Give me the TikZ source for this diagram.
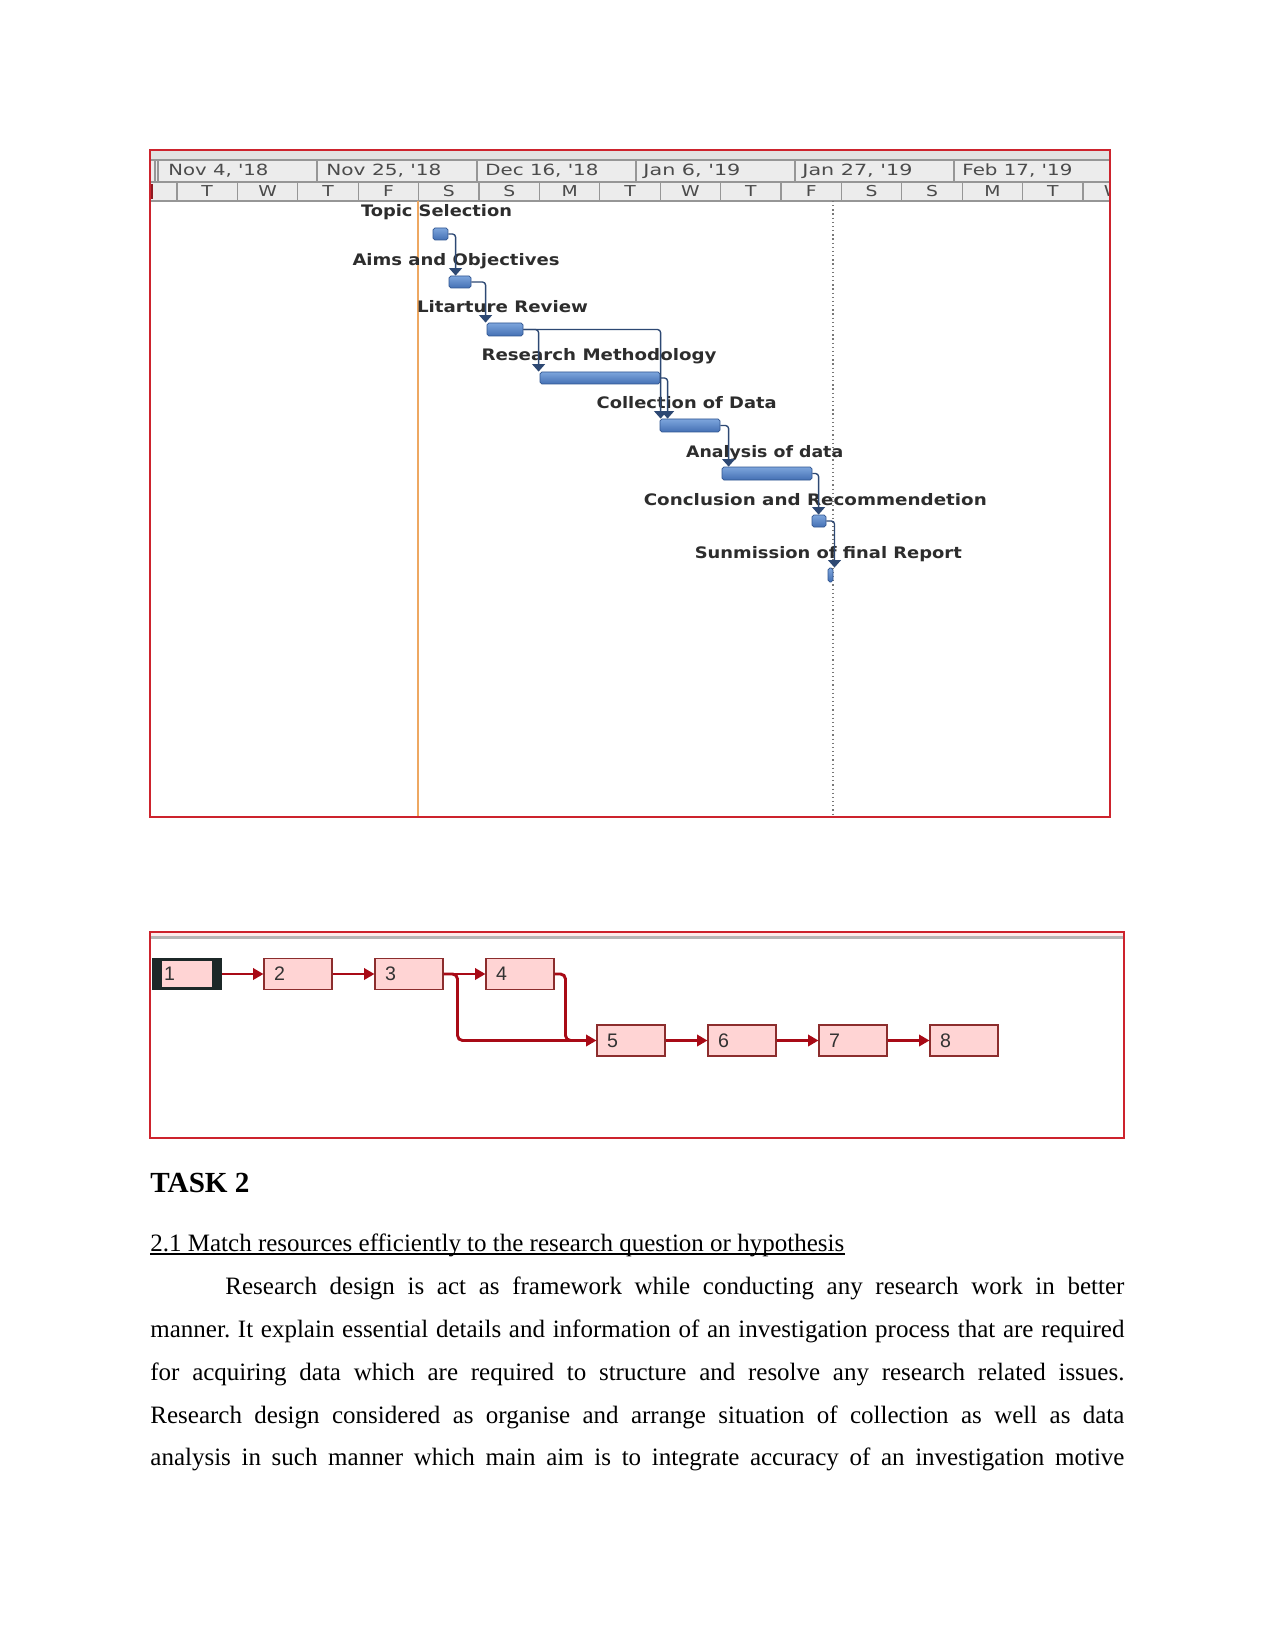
\documentclass[tikz,border=0pt]{standalone}
\usepackage{fontspec}
\setmainfont{Liberation Serif}
\newfontfamily\gsans{DejaVu Sans}
\newfontfamily\nsans{Liberation Sans}
\usetikzlibrary{arrows.meta,calc}
\newdimen\pxu \pxu=0.48pt
\newcommand\gw[2]{\resizebox{#1\pxu}{\height}{#2}}
\definecolor{framered}{RGB}{205,35,45}
\definecolor{hdrbg}{RGB}{236,236,236}
\definecolor{hdrtop}{RGB}{226,226,226}
\definecolor{hdrline}{RGB}{150,150,150}
\definecolor{hdrtxt}{RGB}{75,75,75}
\definecolor{gtxt}{RGB}{45,45,45}
\definecolor{bartop}{RGB}{125,165,220}
\definecolor{barbot}{RGB}{68,112,180}
\definecolor{barline}{RGB}{48,85,145}
\definecolor{gconn}{RGB}{45,72,115}
\definecolor{todayor}{RGB}{238,168,98}
\definecolor{npink}{RGB}{255,212,212}
\definecolor{nborder}{RGB}{140,45,45}
\definecolor{nred}{RGB}{168,10,22}
\definecolor{ndark}{RGB}{28,40,40}
\definecolor{ntxt}{RGB}{50,50,50}
\begin{document}
\begin{tikzpicture}[x=0.48pt,y=-0.48pt,
  frame/.style={draw=framered,line width=0.75pt},
  hline/.style={draw=hdrline,line width=0.5pt},
  datetxt/.style={anchor=base west,inner sep=0,text=hdrtxt,font=\gsans\fontsize{7.4}{9}\selectfont},
  daytxt/.style={anchor=base,inner sep=0,text=hdrtxt,font=\gsans\fontsize{7.2}{8}\selectfont},
  glabel/.style={anchor=base,inner sep=0,text=gtxt,font=\gsans\bfseries\fontsize{7.6}{9}\selectfont},
  gbar/.style={draw=barline,line width=0.4pt,rounded corners=0.9pt,top color=bartop,bottom color=barbot,inner sep=0},
  gline/.style={draw=gconn,line width=0.65pt,rounded corners=1.5pt,-{Triangle[width=6.2pt,length=3.6pt]}},
  nbox/.style={draw=nborder,fill=npink,line width=0.5pt,minimum width=68*0.48pt,minimum height=31*0.48pt,
     text width=48*0.48pt,inner xsep=10*0.48pt,inner ysep=0,align=left,text=ntxt,font=\nsans\fontsize{9.4}{10}\selectfont},
  nline/.style={draw=nred,line width=1.4pt,rounded corners=2.4pt},
  narrow/.style={nline,-{Triangle[width=5.4pt,length=5pt]}},
  body/.style={anchor=base west,inner sep=0,font=\fontsize{12}{14}\selectfont\frenchspacing}
]
\useasboundingbox (0,0) rectangle (1275,1650);
\fill[white] (0,0) rectangle (1275,1650);

% ---------------- Gantt chart ----------------
\begin{scope}
\clip (150,150) rectangle (1110,817);
\fill[hdrbg] (150,150) rectangle (1110,201);
\fill[hdrtop] (150,150) rectangle (1110,160);
\draw[hline] (150,160) -- (1110,160);
\draw[hline] (150,182) -- (1110,182);
\draw[hline,line width=0.7pt] (150,201) -- (1110,201);
\foreach \x in {155,158,317,477,636,795,954} \draw[hline] (\x,160) -- (\x,182);
\foreach \i in {0,...,15} \draw[hline] ({177+60.4*\i},182) -- ({177+60.4*\i},201);
\fill[framered!70!black] (150,184) rectangle (153,199);
\node[datetxt] (dt1) at (168,176) {\gw{100}{Nov 4, \textquotesingle 18}};
\node[datetxt] (dt2) at (326,176) {\gw{115}{Nov 25, \textquotesingle 18}};
\node[datetxt] (dt3) at (485,176) {\gw{113}{Dec 16, \textquotesingle 18}};
\node[datetxt] (dt4) at (643,176) {\gw{97}{Jan 6, \textquotesingle 19}};
\node[datetxt] (dt5) at (802,176) {\gw{110}{Jan 27, \textquotesingle 19}};
\node[datetxt] (dt6) at (962,176) {\gw{110}{Feb 17, \textquotesingle 19}};
\foreach \d [count=\i from 0] in {T,W,T,F,S,S,M,T,W,T,F,S,S,M,T,W}
  \node[daytxt] (day\i) at ({207.2+60.4*\i},197) {\scalebox{1.25}[1]{\d}};
\draw[todayor,line width=0.8pt] (418,201) -- (418,817);
\draw[hdrline!80!black,line width=0.5pt,dash pattern=on 0.6pt off 1.4pt] (833,201) -- (833,817);
\end{scope}

% bars
\newcommand\ganttbar[5]{\node[gbar,minimum width={(#4-#2)*0.48pt},minimum height={(#5-#3)*0.48pt}] (#1) at ({(#2+#4)/2},{(#3+#5)/2}) {};}
\ganttbar{t1}{433}{228}{448}{240}
\ganttbar{t2}{449}{276}{471}{288}
\ganttbar{t3}{487}{323}{523}{336}
\ganttbar{t4}{540}{372}{660}{384}
\ganttbar{t5}{660}{419}{720}{432}
\ganttbar{t6}{722}{467}{812}{480}
\ganttbar{t7}{812}{515}{826}{527}
\ganttbar{t8}{828}{568}{833}{582}

% labels
\node[glabel] (l1) at (436.5,217) {\gw{151}{Topic Selection}};
\node[glabel] (l2) at (456,266) {\gw{207}{Aims and Objectives}};
\node[glabel] (l3) at (502.5,313) {\gw{171}{Litarture Review}};
\node[glabel] (l4) at (599,361) {\gw{235}{Research Methodology}};
\node[glabel] (l5) at (686.7,409) {\gw{180}{Collection of Data}};
\node[glabel] (l6) at (764.7,457) {\gw{157}{Analysis of data}};
\node[glabel] (l7) at (815.3,505) {\gw{343}{Conclusion and Recommendetion}};
\node[glabel] (l8) at (828.3,558) {\gw{267}{Sunmission of final Report}};

% links
\draw[gline] (t1.east) -| ($(t2.north west)+(7,0)$);
\draw[gline] (t2.east) -| ($(t3.north west)+(-1,0)$);
\draw[gline] (t3.east) -| ($(t4.north west)+(-1,0)$);
\draw[gline] (t3.east) -| ($(t5.north west)+(1,0)$);
\draw[gline] (t4.east) -| ($(t5.north west)+(8,0)$);
\draw[gline] (t5.east) -| ($(t6.north west)+(7,0)$);
\draw[gline] (t6.east) -| ($(t7.north west)+(7,0)$);
\draw[gline] (t7.east) -| ($(t8.north)+(4,0)$);

\draw[frame] (150,150) rectangle (1110,817);

% ---------------- Network diagram ----------------
\fill[red!8] (150,932) rectangle (1124,937);
\draw[hdrline!70,line width=1pt] (151,937.5) -- (1123,937.5);
\draw[frame] (150,932) rectangle (1124,1138);

\node[fill=ndark,minimum width=70*0.48pt,minimum height=32*0.48pt,inner sep=0] (b1) at (187,974) {};
\fill[npink] ($(b1.north west)+(10,3)$) rectangle ($(b1.south east)+(-10,-3)$);
\node[anchor=west,inner sep=0,text=ntxt,font=\nsans\fontsize{9.4}{10}\selectfont] (b1t) at ($(b1.west)+(12,0)$) {1};
\node[nbox] (b2) at (298,974) {2};
\node[nbox] (b3) at (409,974) {3};
\node[nbox] (b4) at (520,974) {4};
\node[nbox] (b5) at (631,1040.5) {5};
\node[nbox] (b6) at (742,1040.5) {6};
\node[nbox] (b7) at (853,1040.5) {7};
\node[nbox] (b8) at (964,1040.5) {8};

\draw[narrow] (b1.east) -- (b2.west);
\draw[narrow] (b2.east) -- (b3.west);
\draw[narrow] (b3.east) -- (b4.west);
\draw[narrow] (b3.east) -- ($(b3.east)+(14,0)$) |- (b5.west);
\draw[nline] (b4.east) -| ($(b5.west)+(-31,0)$) -- ($(b5.west)+(-15,0)$);
\draw[narrow] (b5.east) -- (b6.west);
\draw[narrow] (b6.east) -- (b7.west);
\draw[narrow] (b7.east) -- (b8.west);

% ---------------- Text ----------------
\node[anchor=base west,inner sep=0,font=\bfseries\fontsize{14}{16}\selectfont] (task) at (150,1192) {TASK 2};
\node[body] (h21) at (150,1251) {2.1 Match resources efficiently to the research question or hypothesis};
\draw[line width=0.5pt] ($(h21.base west)+(0,3)$) -- ($(h21.base east)+(0,3)$);
\node[body] (p1) at (225,1294) {\makebox[431.52pt][s]{Research design is act as framework while conducting any research work in better}};
\node[body] (p2) at (150,1337) {\makebox[467.52pt][s]{manner. It explain essential details and information of an investigation process that are required}};
\node[body] (p3) at (150,1380) {\makebox[467.52pt][s]{for acquiring data which are required to structure and resolve any research related issues.}};
\node[body] (p4) at (150,1423) {\makebox[467.52pt][s]{Research design considered as organise and arrange situation of collection as well as data}};
\node[body] (p5) at (150,1465) {\makebox[467.52pt][s]{analysis in such manner which main aim is to integrate accuracy of an investigation motive}};
\end{tikzpicture}
\end{document}
